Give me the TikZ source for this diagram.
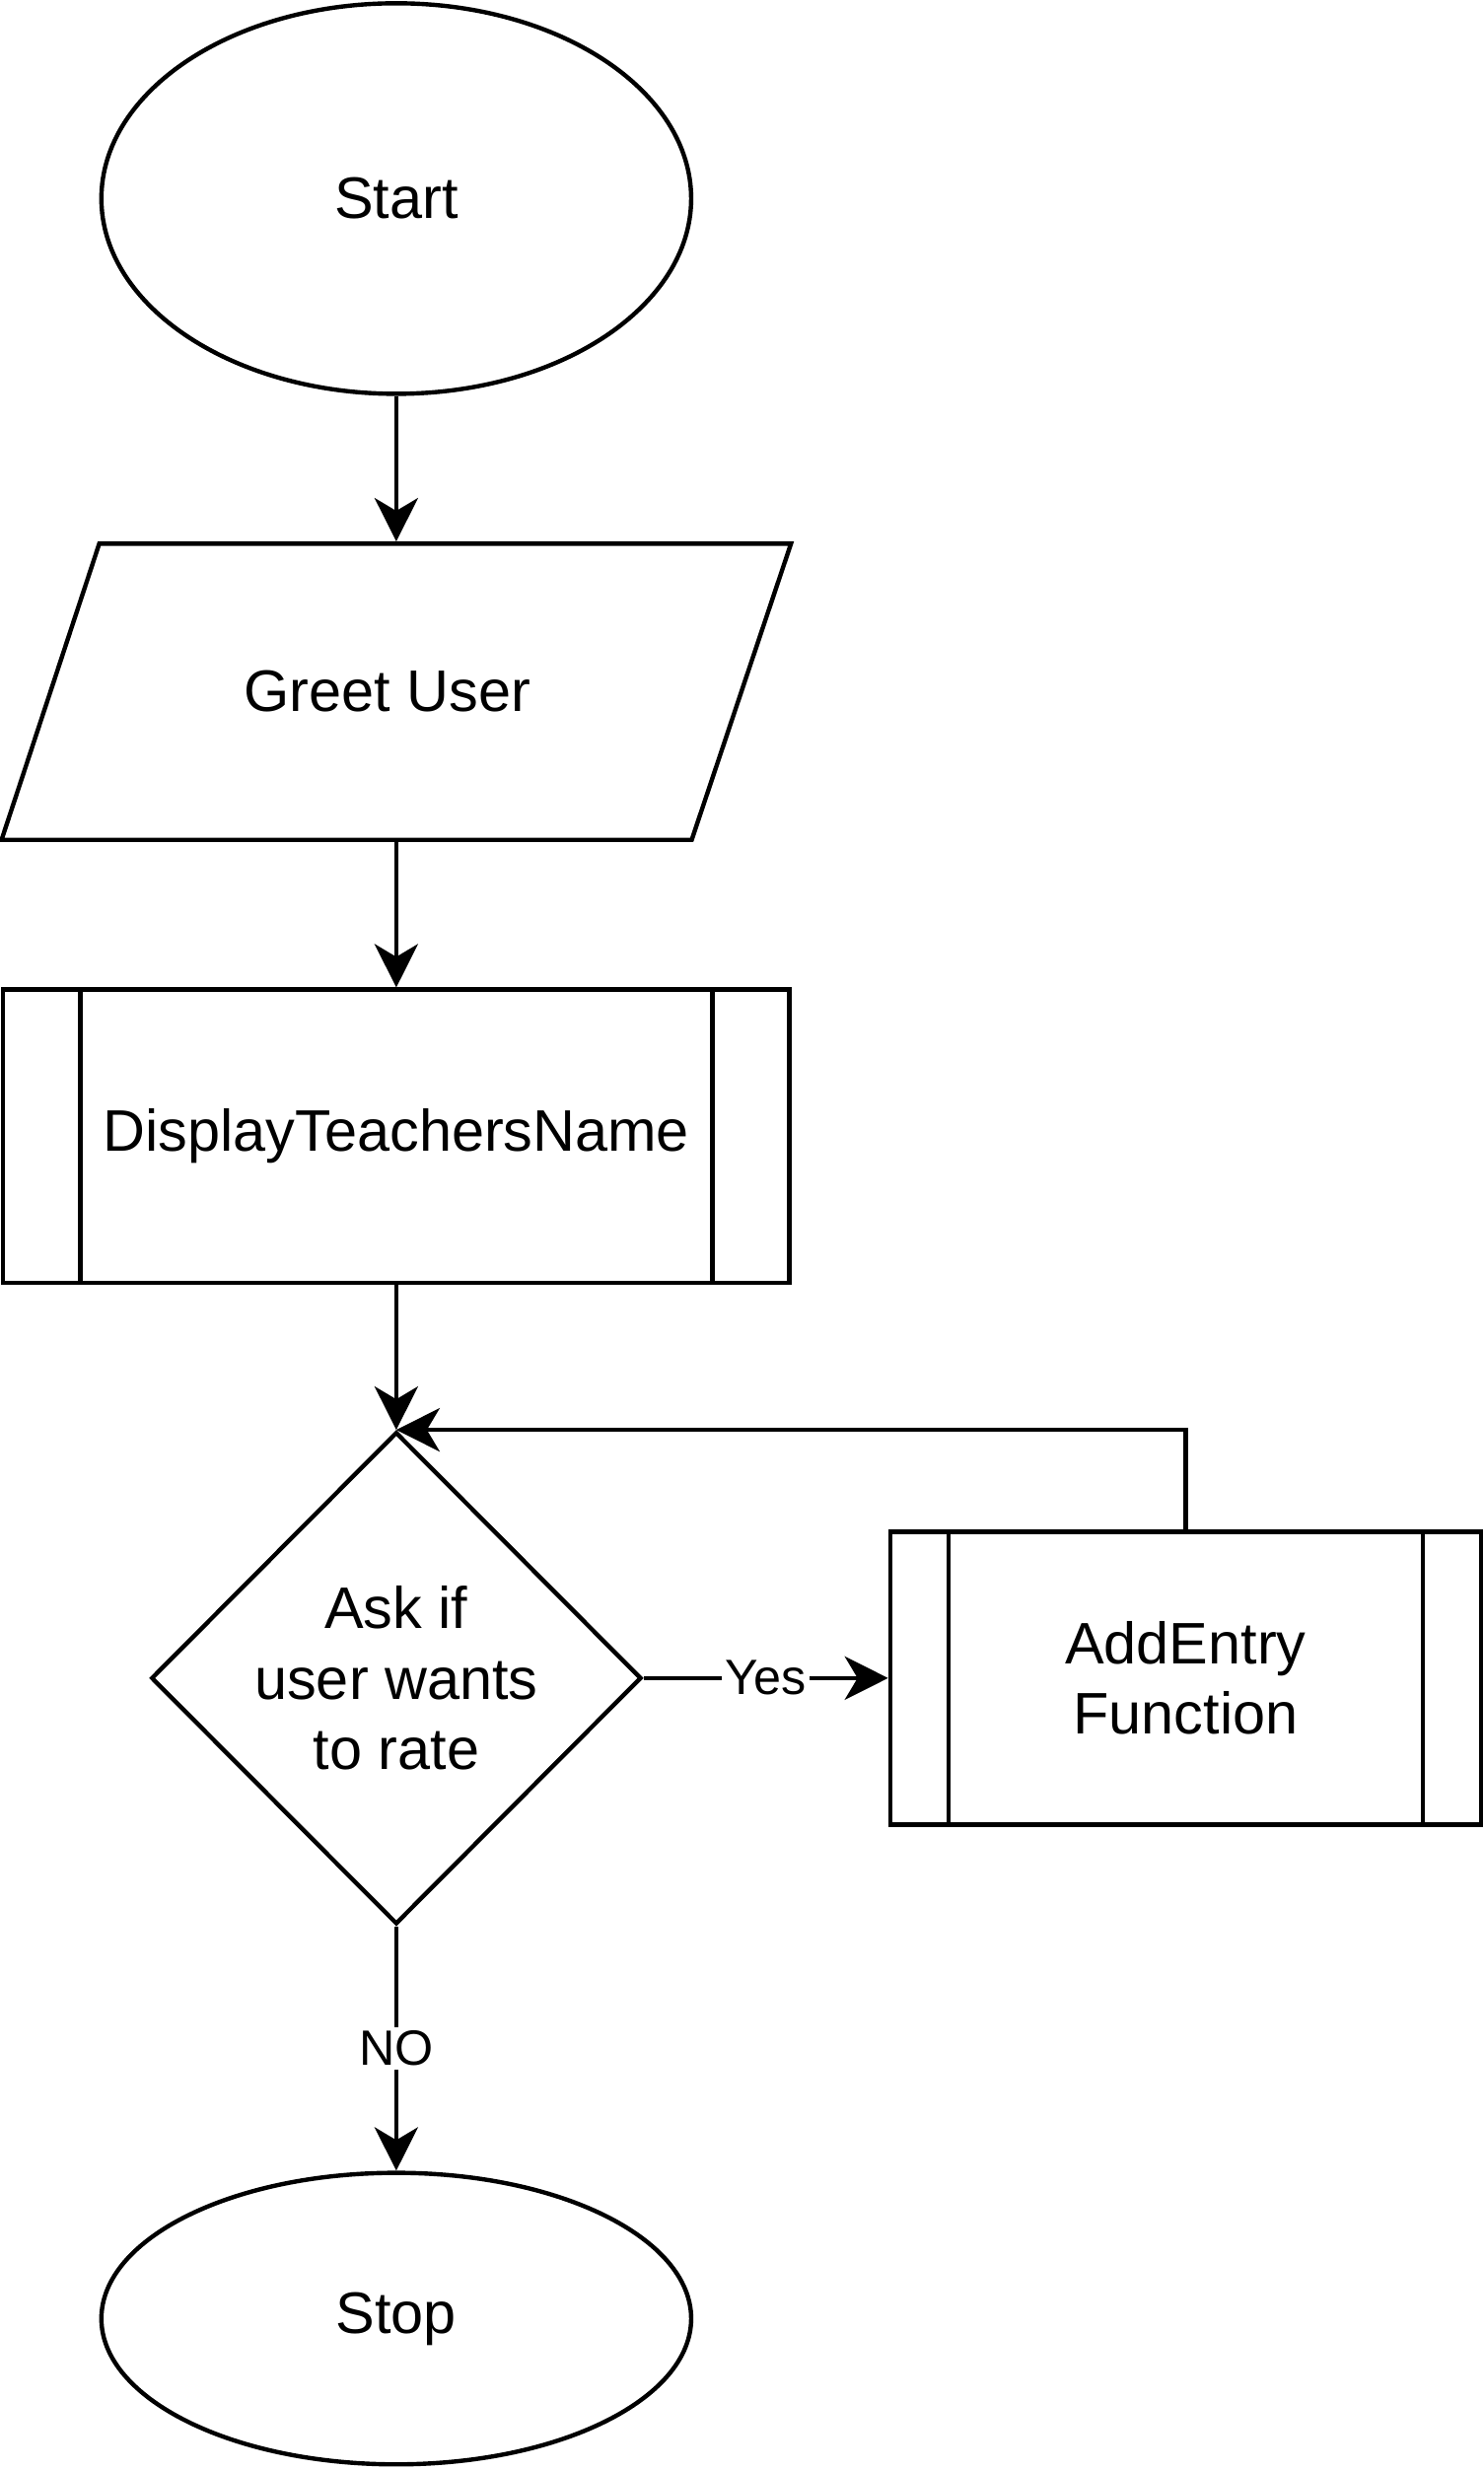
\documentclass[tikz,border=0pt]{standalone}
\usepackage{fontspec}
\setmainfont{Liberation Sans}
\usetikzlibrary{shapes.geometric,arrows.meta}

\begin{document}
\begin{tikzpicture}[x=0.01598cm,y=-0.01598cm,line width=1.25pt,
  font=\fontsize{16.9}{20.4}\selectfont,
  term/.style={draw,ellipse,minimum width=5.98cm,inner sep=0pt},
  subproc/.style={draw,rectangle,minimum height=2.97cm,inner sep=0pt,align=center,
    path picture={\draw ([xshift=#1]path picture bounding box.north west) -- ([xshift=#1]path picture bounding box.south west)
      ([xshift=-#1]path picture bounding box.north east) -- ([xshift=-#1]path picture bounding box.south east);}},
  decision/.style={draw,diamond,minimum width=4.97cm,minimum height=4.99cm,inner sep=0pt,align=center},
  arr/.style={-{Stealth[length=0.44cm,width=0.44cm,inset=0.13cm]}},
  edgelbl/.style={fill=white,inner sep=1pt,font=\fontsize{14.3}{17}\selectfont}]
\useasboundingbox (0,0) rectangle (941.8,1567.6);
\node[term,minimum height=3.96cm] (start) at (251.5,126) {Start};
\draw (63,345) -- (502,345) -- (439,533) -- (1,533) -- cycle;
\node[minimum width=7cm,minimum height=3.004cm,inner sep=0pt] (greet) at (251.5,439) {Greet User\hspace*{0.18cm}};
\node[subproc=0.78cm,minimum width=7.97cm] (display) at (251.5,721) {DisplayTeachersName};
\node[decision] (ask) at (251.5,1065) {Ask if\\user wants\\to rate};
\node[subproc=0.59cm,minimum width=5.99cm] (addentry) at (752.5,1065) {AddEntry\\Function};
\node[term,minimum height=2.956cm,align=center] (stop) at (251.5,1471.5) {Stop};
\draw[arr] (start.south) -- (greet.north);
\draw[arr] (greet.south) -- (display.north);
\draw[arr] (display.south) -- (ask.north);
\draw[arr] (ask.east) -- node[edgelbl]{Yes} (addentry.west);
\draw[arr] (ask.south) -- node[edgelbl]{NO} (stop.north);
\draw[arr] (addentry.north) |- (ask.north);
\end{tikzpicture}
\end{document}
